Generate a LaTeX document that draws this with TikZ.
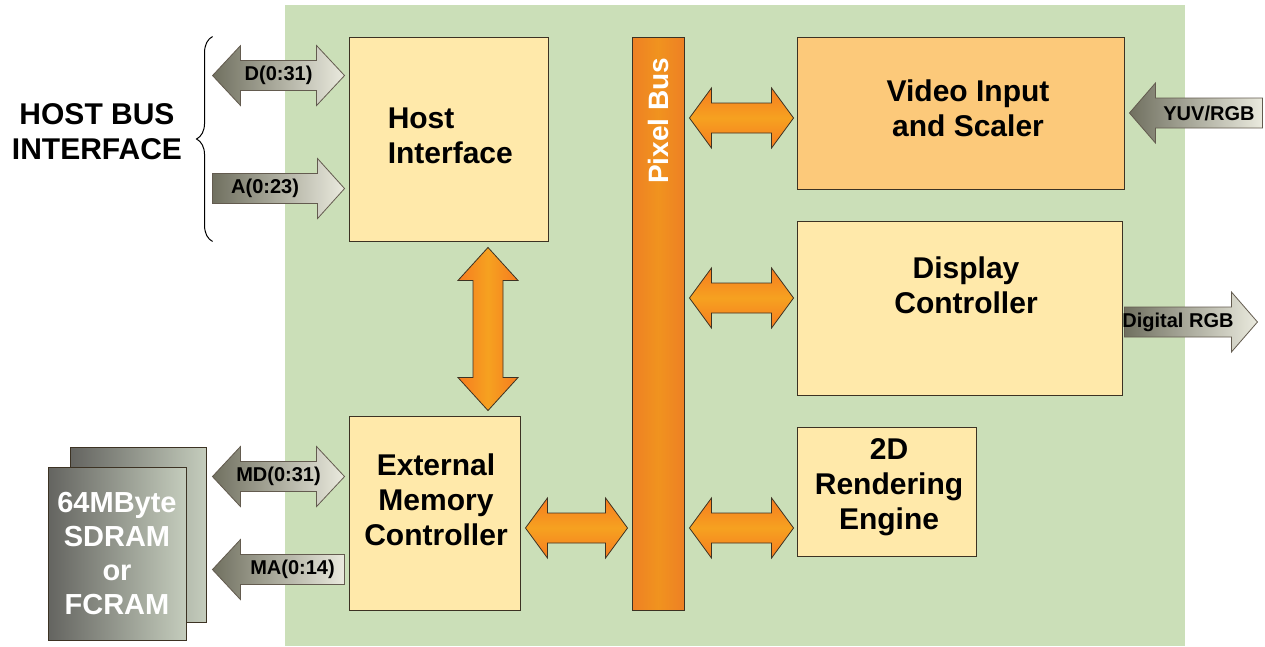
\documentclass[tikz,border=0pt]{standalone}
\usepackage{fontspec}
\setmainfont{Liberation Sans}
\usetikzlibrary{calc,decorations.pathreplacing}
\definecolor{bggreen}{RGB}{203,223,184}
\definecolor{boxyellow}{RGB}{255,233,170}
\definecolor{boxorange}{RGB}{252,201,122}
\definecolor{busorange}{RGB}{238,128,36}
\definecolor{arroworange}{RGB}{244,145,38}
\definecolor{edgedark}{RGB}{60,50,35}
\definecolor{greydark}{RGB}{112,112,96}
\definecolor{greylight}{RGB}{234,234,222}
\definecolor{chipdark}{RGB}{100,100,96}
\definecolor{chiplight}{RGB}{196,204,188}
\newcommand{\bigfont}{\fontsize{30}{35}\selectfont\bfseries}
\newcommand{\tagfont}{\fontsize{20}{24}\selectfont\bfseries}
\newcommand{\dblh}[5]{\path[#1] let \p1=(#2), \p2=(#3) in
  (\x1,\y1) -- (\x1+#4,\y1+30pt) -- (\x1+#4,\y1+15pt) -- (\x2-#4,\y1+15pt) -- (\x2-#4,\y1+30pt)
  -- (\x2,\y1) -- (\x2-#4,\y1-30pt) -- (\x2-#4,\y1-15pt) -- (\x1+#4,\y1-15pt) -- (\x1+#4,\y1-30pt) -- cycle
  ({(\x1+\x2)/2},\y1) node[tag] {#5};}
\newcommand{\sglr}[5]{\path[#1] let \p1=(#2), \p2=(#3) in
  (\x1,\y1+15pt) -- (\x2-#4,\y1+15pt) -- (\x2-#4,\y1+30pt) -- (\x2,\y1)
  -- (\x2-#4,\y1-30pt) -- (\x2-#4,\y1-15pt) -- (\x1,\y1-15pt) -- cycle
  ({(\x1+\x2-#4)/2},\y1) node[tag] {#5};}
\newcommand{\sgll}[5]{\path[#1] let \p1=(#2), \p2=(#3) in
  (\x1,\y1) -- (\x1+#4,\y1+30pt) -- (\x1+#4,\y1+15pt) -- (\x2,\y1+15pt)
  -- (\x2,\y1-15pt) -- (\x1+#4,\y1-15pt) -- (\x1+#4,\y1-30pt) -- cycle
  ({(\x1+#4+\x2)/2},\y1) node[tag] {#5};}
\newcommand{\dblv}[4]{\path[#1] let \p1=(#2), \p2=(#3) in
  (\x1,\y1) -- (\x1+30pt,\y1-#4) -- (\x1+15pt,\y1-#4) -- (\x1+15pt,\y2+#4) -- (\x1+30pt,\y2+#4)
  -- (\x1,\y2) -- (\x1-30pt,\y2+#4) -- (\x1-15pt,\y2+#4) -- (\x1-15pt,\y1-#4) -- (\x1-30pt,\y1-#4) -- cycle;}

\begin{document}
\begin{tikzpicture}[x=1pt,y=-1pt,
  box/.style={draw=edgedark, line width=.9pt, fill=boxyellow, inner sep=0pt},
  boxtext/.style={font=\bigfont, align=center, text=black, inner sep=0pt},
  tag/.style={font=\tagfont, text=black, inner sep=0pt},
  chipbox/.style={draw=edgedark, line width=.9pt, left color=chipdark, right color=chiplight, inner sep=0pt},
  orangelink/.style={draw=edgedark, line width=.8pt, top color=arroworange!85!red, bottom color=arroworange!85!red, middle color=arroworange!85!yellow},
  orangevert/.style={draw=edgedark, line width=.8pt, left color=arroworange!85!red, right color=arroworange!85!red, middle color=arroworange!85!yellow},
  greylink/.style={draw=edgedark!80, line width=.8pt, left color=greydark, right color=greylight}]
  \useasboundingbox (0,0) rectangle (1265,646);
  \fill[bggreen] (285,5) rectangle (1185,646);

  \node (host) at (448.5,139) [box, minimum width=199, minimum height=204] {};
  \node (emc) at (434.5,513) [box, minimum width=171, minimum height=194] {};
  \node (bus) at (658,323.5) [box, shade, left color=busorange, right color=busorange, middle color=busorange!85!yellow, minimum width=52, minimum height=573] {};
  \node (video) at (960.5,113) [box, fill=boxorange, minimum width=327, minimum height=152] {};
  \node (display) at (959.5,308) [box, minimum width=325, minimum height=174] {};
  \node (render) at (886.5,491.5) [box, minimum width=179, minimum height=129] {};
  \node (chipback) at (138,534.5) [chipbox, minimum width=136, minimum height=175] {};
  \node (chip) at (117,553.5) [chipbox, minimum width=138, minimum height=173, font=\fontsize{29}{34}\selectfont\bfseries, text=white, align=center] {64MByte\\SDRAM\\or\\FCRAM};

  \node[boxtext, align=left, anchor=west] (hosttext) at ($(host.west)+(39,-3)$) {Host\\Interface};
  \node[boxtext] (emctext) at ($(emc.center)+(1.5,-13)$) {External\\Memory\\Controller};
  \node[boxtext] (videotext) at ($(video.center)+(7.5,-5)$) {Video Input\\and Scaler};
  \node[boxtext] (displaytext) at ($(display.center)+(6.5,-23)$) {Display\\Controller};
  \node[boxtext] (rendertext) at ($(render.center)+(2.5,-4.5)$) {2D\\Rendering\\Engine};
  \node[rotate=90, anchor=east, inner sep=0pt, font=\fontsize{28}{30}\selectfont\bfseries, text=white] (bustext) at ($(bus.north)+(0,21)$) {Pixel Bus};
  \node[boxtext] (hostbus) at (97,132) {HOST BUS\\INTERFACE};

  \draw[line width=1pt, decorate, decoration={brace, amplitude=16}] ($(host.south west)+(-136,0)$) -- ($(host.north west)+(-136,0)$);

  \dblh{orangelink}{$(emc.east)+(5,15)$}{$(bus.west |- emc.east)+(-4,15)$}{22pt}{}
  \dblh{orangelink}{$(bus.east |- video.west)+(5,5)$}{$(video.west)+(-3,5)$}{22pt}{}
  \dblh{orangelink}{$(bus.east |- display.west)+(5,-10)$}{$(display.west)+(-3,-10)$}{22pt}{}
  \dblh{orangelink}{$(bus.east |- render.west)+(5,36.5)$}{$(render.west)+(-3,36.5)$}{22pt}{}
  \dblv{orangevert}{$(host.south)+(39.5,6)$}{$(host.south |- emc.north)+(39.5,-5)$}{33pt}

  \dblh{greylink}{$(host.north west)+(-136,39)$}{$(host.north west)+(-4,39)$}{28pt}{D(0:31)}
  \sglr{greylink}{$(host.north west)+(-136,152)$}{$(host.north west)+(-4,152)$}{27pt}{A(0:23)}
  \dblh{greylink}{$(chipback.east |- emc.north)+(6,61)$}{$(emc.north west)+(-4,61)$}{28pt}{MD(0:31)}
  \sgll{greylink}{$(chipback.east |- emc.north)+(6,154)$}{$(emc.north west)+(-4,154)$}{28pt}{MA(0:14)}
  \sgll{greylink}{$(video.east)+(5,0)$}{$(video.east)+(138,0)$}{26pt}{YUV/RGB}
  \sglr{greylink}{$(display.east)+(2,14)$}{$(display.east)+(135,14)$}{26pt}{Digital RGB}
\end{tikzpicture}
\end{document}
